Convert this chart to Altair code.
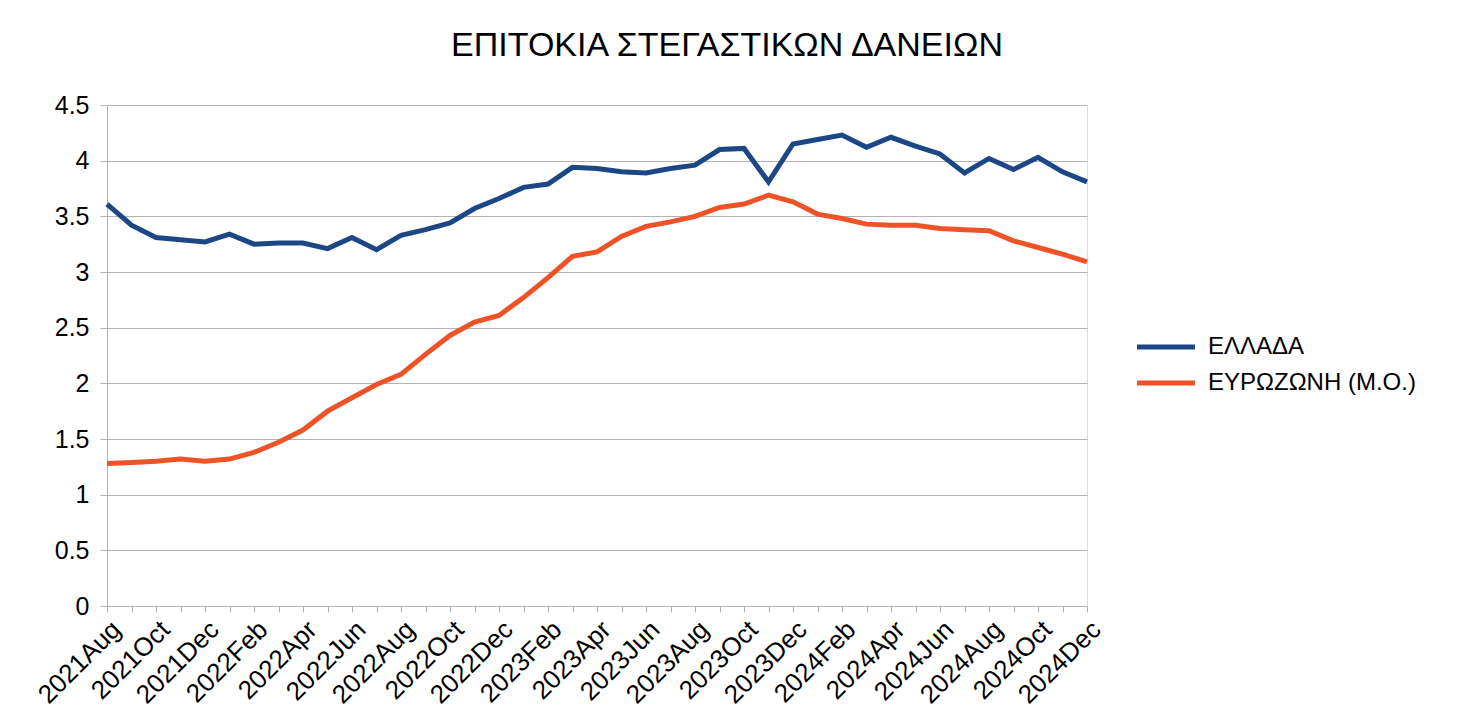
import json
import altair as alt
import pandas as pd

# ---------------- data ----------------
years_months = (
    [("2021", m) for m in ["Aug", "Sep", "Oct", "Nov", "Dec"]]
    + [("2022", m) for m in ["Jan", "Feb", "Mar", "Apr", "May", "Jun", "Jul", "Aug", "Sep", "Oct", "Nov", "Dec"]]
    + [("2023", m) for m in ["Jan", "Feb", "Mar", "Apr", "May", "Jun", "Jul", "Aug", "Sep", "Oct", "Nov", "Dec"]]
    + [("2024", m) for m in ["Jan", "Feb", "Mar", "Apr", "May", "Jun", "Jul", "Aug", "Sep", "Oct", "Nov", "Dec"]]
)
months = [y + m for y, m in years_months]
shown_labels = months[::2]

greece = [3.61, 3.42, 3.31, 3.29, 3.27, 3.34, 3.25, 3.26, 3.26, 3.21,
          3.31, 3.20, 3.33, 3.38, 3.44, 3.57, 3.66, 3.76, 3.79, 3.94,
          3.93, 3.90, 3.89, 3.93, 3.96, 4.10, 4.11, 3.81, 4.15, 4.19,
          4.23, 4.12, 4.21, 4.13, 4.06, 3.89, 4.02, 3.92, 4.03, 3.90,
          3.81]
eurozone = [1.28, 1.29, 1.30, 1.32, 1.30, 1.32, 1.38, 1.47, 1.58, 1.75,
            1.87, 1.99, 2.08, 2.26, 2.43, 2.55, 2.61, 2.77, 2.95, 3.14,
            3.18, 3.32, 3.41, 3.45, 3.50, 3.58, 3.61, 3.69, 3.63, 3.52,
            3.48, 3.43, 3.42, 3.42, 3.39, 3.38, 3.37, 3.28, 3.22, 3.16,
            3.09]

series_names = ["ΕΛΛΑΔΑ", "ΕΥΡΩΖΩΝΗ (Μ.Ο.)"]
series_colors = ["#1d4685", "#ee5327"]
y_ticks = [0, 0.5, 1, 1.5, 2, 2.5, 3, 3.5, 4, 4.5]
title_text = "ΕΠΙΤΟΚΙΑ ΣΤΕΓΑΣΤΙΚΩΝ ΔΑΝΕΙΩΝ"

rows = []
for m, g, e in zip(months, greece, eurozone):
    rows.append({"month": m, "series": series_names[0], "value": g})
    rows.append({"month": m, "series": series_names[1], "value": e})
df = pd.DataFrame(rows)

FONT = "Liberation Sans"
GRID = "#b3b3b3"

label_expr = "indexof(" + json.dumps(shown_labels) + ", datum.value) >= 0 ? datum.value : ''"

chart = (
    alt.Chart(df)
    .mark_line(strokeWidth=5)
    .encode(
        x=alt.X(
            "month:N",
            sort=months,
            scale=alt.Scale(type="point", padding=0),
            axis=alt.Axis(
                title=None,
                labelAngle=-45,
                labelAlign="right",
                labelBaseline="top",
                labelExpr=label_expr,
                labelOverlap=False,
                labelFontSize=26,
                labelFont=FONT,
                labelColor="#000000",
                labelPadding=4,
                grid=False,
                tickSize=6,
                tickColor=GRID,
                domainColor=GRID,
            ),
        ),
        y=alt.Y(
            "value:Q",
            scale=alt.Scale(domain=[0, 4.5], nice=False, zero=True),
            axis=alt.Axis(
                title=None,
                values=y_ticks,
                format="~g",
                labelFontSize=25,
                labelFont=FONT,
                labelColor="#000000",
                labelPadding=11,
                tickSize=7,
                tickColor=GRID,
                domainColor=GRID,
                gridColor=GRID,
            ),
        ),
        color=alt.Color(
            "series:N",
            sort=series_names,
            scale=alt.Scale(domain=series_names, range=series_colors),
            legend=alt.Legend(
                title=None,
                orient="none",
                legendX=1047,
                legendY=230,
                symbolType="M-4,0H4",
                symbolSize=210,
                symbolStrokeWidth=5,
                labelFontSize=24,
                labelFont=FONT,
                labelColor="#000000",
                labelOffset=30,
                labelLimit=0,
                rowPadding=12,
                padding=0,
            ),
        ),
    )
    .properties(
        width=980,
        height=501,
        title=alt.TitleParams(
            text=title_text,
            font=FONT,
            fontSize=34,
            fontWeight="normal",
            color="#000000",
            anchor="middle",
            frame="group",
            dx=130,
            offset=30,
        ),
        autosize=alt.AutoSizeParams(type="none"),
        padding={"left": 107, "top": 105, "right": 373, "bottom": 118},
    )
    .configure_view(stroke=GRID)
    .configure(background="#ffffff")
)

chart.save("out.html", embed_options={"renderer": "svg", "actions": False})
